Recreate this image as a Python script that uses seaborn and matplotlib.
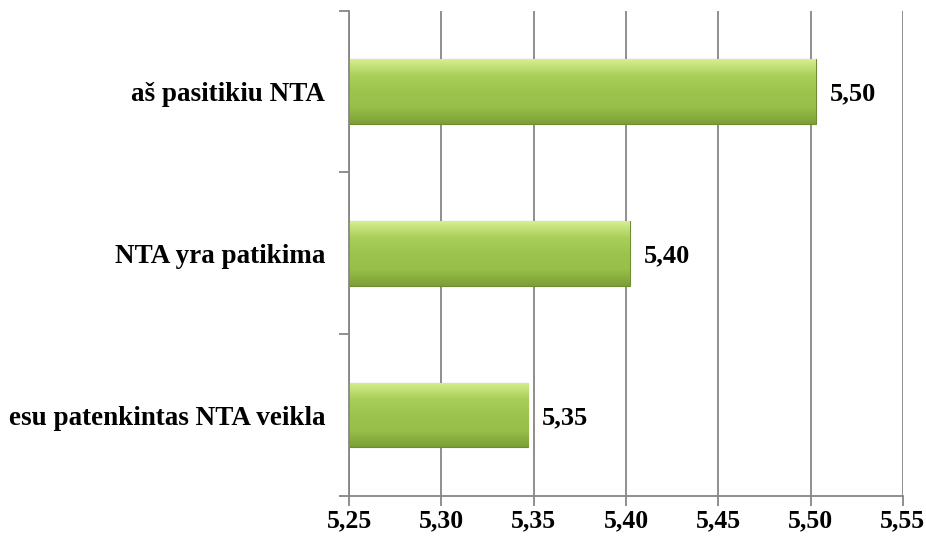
import numpy as np
import pandas as pd
import matplotlib.pyplot as plt
import seaborn as sns
from matplotlib.colors import LinearSegmentedColormap

# data
categories = ["aš pasitikiu NTA", "NTA yra patikima", "esu patenkintas NTA veikla"]
values = [5.503, 5.402, 5.347]
value_labels = ["5,50", "5,40", "5,35"]
x_ticks = [5.25, 5.30, 5.35, 5.40, 5.45, 5.50, 5.55]
x_min, x_max = 5.25, 5.55

df = pd.DataFrame({"category": categories, "value": values})

sns.set_theme(style="white")
plt.rcParams["font.family"] = ["Liberation Serif", "DejaVu Serif"]
plt.rcParams["font.weight"] = "bold"

fig = plt.figure(figsize=(9.26, 5.39), dpi=100)
ax = fig.add_axes([0.377, 0.080, 0.598, 0.900])

sns.barplot(data=df, x="value", y="category", orient="h", color="#9bbb59",
            width=0.40, edgecolor="#6f8c34", linewidth=0.8, ax=ax, zorder=3)

# bars in seaborn start at 0; the visible part starts at the axis minimum
grad = LinearSegmentedColormap.from_list(
    "bevel", ["#d6ee8f", "#a9cf5a", "#9cc44d", "#97bf49", "#7c9f35"])
for p in ax.patches:
    x0, y0 = max(p.get_x(), x_min), p.get_y()
    x1, h = p.get_x() + p.get_width(), p.get_height()
    img = np.linspace(0, 1, 64).reshape(-1, 1)
    im = ax.imshow(img, cmap=grad, aspect="auto", zorder=3.5,
                   extent=(x0, x1, y0 + h, y0), origin="upper")
    im.set_clip_path(p)

ax.set_xlim(x_min, x_max)
ax.set_ylim(2.5, -0.5)

for p, lab in zip(ax.patches, value_labels):
    ax.annotate(lab, (p.get_x() + p.get_width(), p.get_y() + p.get_height() / 2),
                xytext=(10, 0), textcoords="offset points", ha="left",
                va="center_baseline", fontsize=19, fontweight="bold", color="black")

ax.set_xticks(x_ticks)
ax.set_xticklabels([f"{t:.2f}".replace(".", ",") for t in x_ticks])
ax.set_yticks([0, 1, 2])
ax.set_yticklabels(categories)
ax.set_yticks([-0.5, 0.5, 1.5, 2.5], minor=True)

ax.grid(axis="x", color="#868686", linewidth=1.3, zorder=0)
ax.grid(axis="y", visible=False)
for s in ["top", "right"]:
    ax.spines[s].set_visible(False)
for s in ["left", "bottom"]:
    ax.spines[s].set_color("#868686")
    ax.spines[s].set_linewidth(1.3)
    ax.spines[s].set_zorder(4)

ax.tick_params(axis="x", which="major", length=7, width=1.3, color="#868686",
               direction="out", bottom=True, labelsize=18.5, pad=3)
ax.tick_params(axis="y", which="major", length=0, labelsize=19.5, pad=17)
ax.tick_params(axis="y", which="minor", length=7, width=1.3, color="#868686",
               direction="out", left=True)
for t in ax.get_xticklabels() + ax.get_yticklabels():
    t.set_fontweight("bold")
    t.set_color("black")
for t in ax.get_yticklabels():
    t.set_va("center_baseline")

ax.set_xlabel("")
ax.set_ylabel("")

fig.savefig("out.png", dpi=100)
